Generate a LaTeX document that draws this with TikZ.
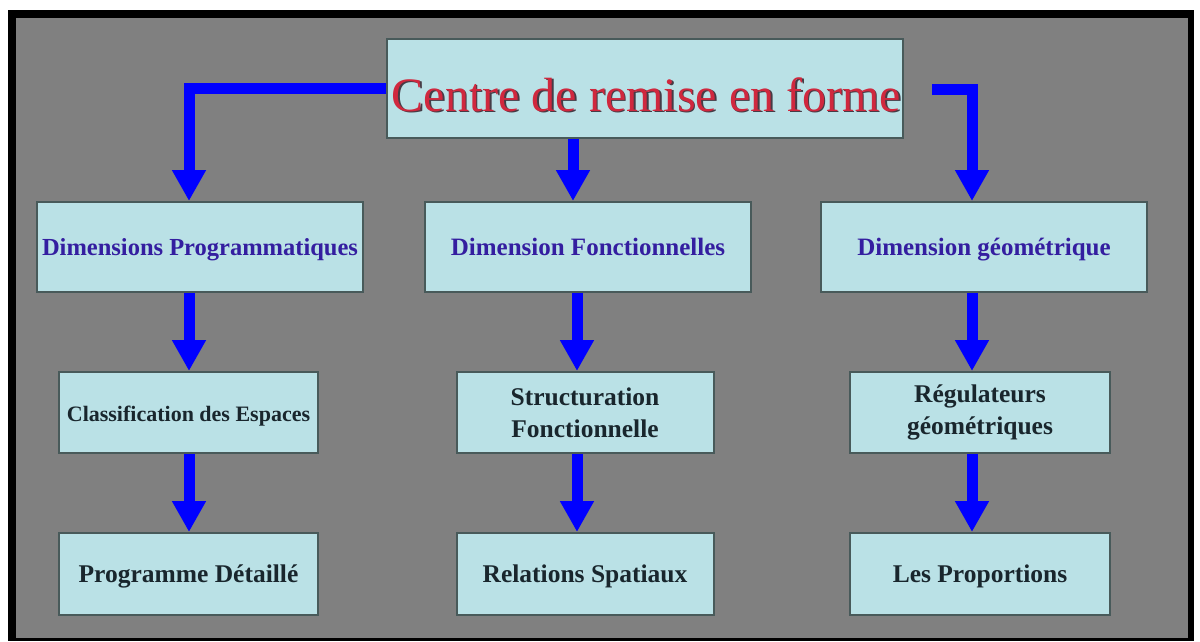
\documentclass[tikz,border=0pt]{standalone}
\usepackage{fontspec}
\setmainfont{Liberation Serif}
\usetikzlibrary{arrows.meta}
\definecolor{bggray}{RGB}{128,128,128}
\definecolor{boxfill}{RGB}{186,225,230}
\definecolor{boxline}{RGB}{72,90,90}
\definecolor{arrblue}{RGB}{0,0,255}
\definecolor{titlered}{RGB}{208,40,62}
\definecolor{titleshadow}{RGB}{70,60,70}
\definecolor{lvltwo}{RGB}{52,30,160}
\definecolor{lvlthree}{RGB}{25,38,45}
\tikzset{
  box/.style={draw=boxline, line width=2pt, fill=boxfill, inner sep=0pt, align=center},
  single/.style={text height=17pt, text depth=0pt},
  lvlA/.style={box, single, font=\fontsize{25}{30}\selectfont\bfseries, text=lvltwo},
  lvlB/.style={box, font=\fontsize{25.5}{32}\selectfont\bfseries, text=lvlthree},
  arr/.style={draw=arrblue, line width=11pt, line join=miter,
    -{Triangle[width=32pt,length=31pt]}},
}
\begin{document}
\begin{tikzpicture}[x=1pt,y=-1pt]
\useasboundingbox (0,0) rectangle (1200,641);
\fill[black] (8,10) rectangle (1194,641);
\fill[bggray] (16,18) rectangle (1188,638);
% top
\node[box, minimum width=516pt, minimum height=99pt] (top) at (645,88.5) {};
\node[anchor=base, text=titleshadow, font=\fontsize{48}{56}\selectfont, inner sep=0pt] (topsh) at (648,112.5) {Centre de remise en forme};
\node[anchor=base, text=titlered, font=\fontsize{48}{56}\selectfont, inner sep=0pt] (toptxt) at (646.5,111) {Centre de remise en forme};
% level 2
\node[lvlA, minimum width=326pt, minimum height=90pt, font=\fontsize{24.5}{30}\selectfont\bfseries] (a2) at (200,247) {Dimensions Programmatiques};
\node[lvlA, minimum width=326pt, minimum height=90pt] (b2) at (588,247) {Dimension Fonctionnelles};
\node[lvlA, minimum width=326pt, minimum height=90pt] (c2) at (984,247) {Dimension géométrique};
% level 3
\node[lvlB, single, minimum width=259pt, minimum height=81pt, font=\fontsize{22}{28}\selectfont\bfseries] (a3) at (188.5,412.5) {Classification des Espaces};
\node[lvlB, minimum width=257pt, minimum height=81pt] (b3) at (585,412.5) {Structuration\\Fonctionnelle};
\node[lvlB, minimum width=260pt, minimum height=81pt] (c3) at (980,412.5) {Régulateurs\\géométriques};
% level 4
\node[lvlB, single, minimum width=259pt, minimum height=82pt] (a4) at (188.5,574) {Programme Détaillé};
\node[lvlB, single, minimum width=257pt, minimum height=82pt] (b4) at (585,574) {Relations Spatiaux};
\node[lvlB, single, minimum width=260pt, minimum height=82pt] (c4) at (980,574) {Les Proportions};
% columns
\coordinate (colA) at (189,0);
\coordinate (colB) at (573,0);
\coordinate (colBB) at (577,0);
\coordinate (colC) at (972,0);
\coordinate (rstart) at (932,89);
% arrows
\draw[arr] (top.west) -| (a2.north -| colA);
\draw[arr] (top.south -| colB) -- (b2.north -| colB);
\draw[arr] (rstart) -| (c2.north -| colC);
\draw[arr] (a2.south -| colA) -- (a3.north -| colA);
\draw[arr] (b2.south -| colBB) -- (b3.north -| colBB);
\draw[arr] (c2.south -| colC) -- (c3.north -| colC);
\draw[arr] (a3.south -| colA) -- (a4.north -| colA);
\draw[arr] (b3.south -| colBB) -- (b4.north -| colBB);
\draw[arr] (c3.south -| colC) -- (c4.north -| colC);
\end{tikzpicture}
\end{document}
